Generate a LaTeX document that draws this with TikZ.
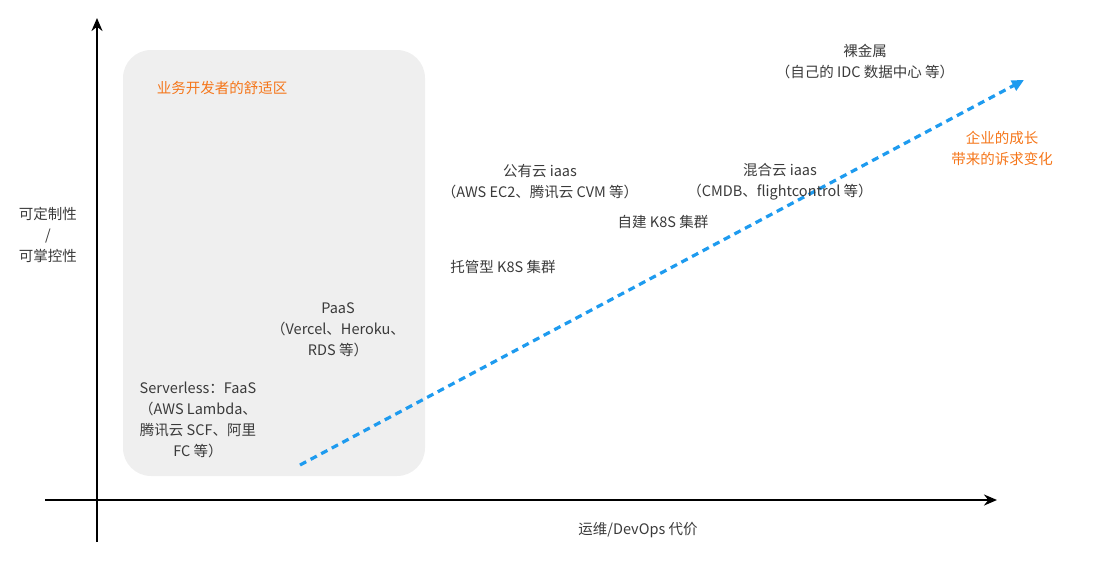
\documentclass[tikz,border=0pt]{standalone}
\usepackage{fontspec}
\setmainfont{Noto Sans CJK SC}
\usetikzlibrary{arrows.meta}
\definecolor{txtgray}{HTML}{3A3A3A}
\definecolor{zonegray}{HTML}{EFEFEF}
\definecolor{tagorange}{HTML}{F5761A}
\definecolor{trendblue}{HTML}{1E9BEF}
\tikzset{
  lbl/.style={align=center,text=txtgray,font=\fontsize{14.5}{21}\selectfont,inner sep=0pt},
  hot/.style={lbl,text=tagorange},
  axis/.style={line width=2.6pt,-{Stealth[length=13pt,width=11pt]}}
}
\begin{document}
\begin{tikzpicture}[x=1pt,y=-1pt]
    \useasboundingbox (0,0) rectangle (1098,563);
    % comfort zone
    \fill[zonegray,rounded corners=28pt] (123,50) rectangle (425,476);
    \node[hot] (zone) at (222,88) {业务开发者的舒适区};
    % axes
    \coordinate (o) at (97,500);
    \coordinate (ytop) at (97,18);
    \coordinate (xend) at (997,500);
    \draw[axis] (97,542) -- (ytop);
    \draw[axis] (45,500) -- (xend);
    \node[lbl] (ylab) at (48,235) {可定制性\\/\\可掌控性};
    \node[lbl] (xlab) at (638,530) {运维/DevOps 代价};
    % trend
    \coordinate (start) at (300,465);
    \coordinate (goal) at (1024,80);
    \draw[trendblue,line width=3.2pt,dash pattern=on 7pt off 5pt,-{Triangle[length=12pt,width=11pt]}] (start) -- (goal);
    \node[hot] (growth) at (1002,148) {企业的成长\\带来的诉求变化};
    % platforms
    \node[lbl] (faas) at (198,420) {Serverless：FaaS\\（AWS Lambda、\\腾讯云 SCF、阿里\\FC 等）};
    \node[lbl] (paas) at (338,330) {PaaS\\（Vercel、Heroku、\\RDS 等）};
    \node[lbl] (k8sm) at (503,267) {托管型 K8S 集群};
    \node[lbl] (k8ss) at (663,222) {自建 K8S 集群};
    \node[lbl] (pub) at (540,182) {公有云 iaas\\（AWS EC2、腾讯云 CVM 等）};
    \node[lbl] (hyb) at (780,182) {混合云 iaas\\（CMDB、flightcontrol 等）};
    \node[lbl] (bare) at (865,62) {裸金属\\（自己的 IDC 数据中心 等）};
\end{tikzpicture}
\end{document}
